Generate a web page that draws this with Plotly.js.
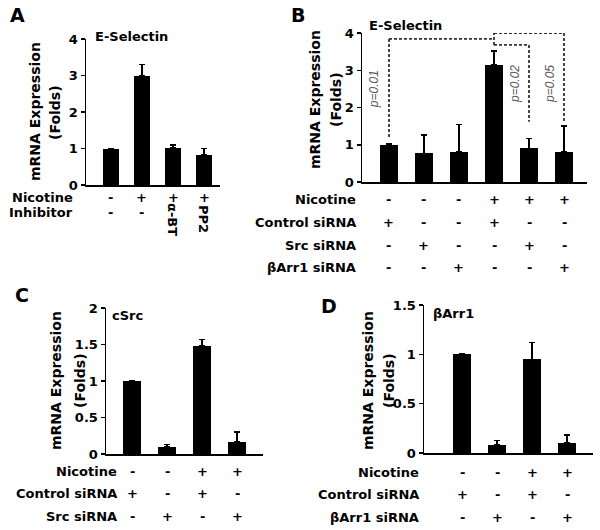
<!DOCTYPE html>
<html><head><meta charset="utf-8">
<script src="https://cdn.plot.ly/plotly-3.0.1.min.js"></script>
<style>html,body{margin:0;padding:0;background:#fff}</style>
</head><body><div id="chart" style="width:600px;height:530px"></div>
<script>
// ---------- Panel A : E-Selectin ----------
const aCats = ['Control', 'Nicotine', 'Nicotine + α-BT', 'Nicotine + PP2'];
const aVals = [1.0, 3.0, 1.02, 0.82];
const aErr = [0.0, 0.30, 0.08, 0.18];
const aNicotine = ['-', '+', '+', '+'];
const aInhibitor = ['-', '-', 'α-BT', 'PP2'];
const aTicks = [0, 1, 2, 3, 4];

// ---------- Panel B : E-Selectin with siRNA ----------
const bCats = ['Ctrl siRNA', 'Src siRNA', 'βArr1 siRNA', 'Nic + Ctrl siRNA', 'Nic + Src siRNA', 'Nic + βArr1 siRNA'];
const bVals = [1.0, 0.77, 0.81, 3.15, 0.90, 0.81];
const bErr = [0.02, 0.49, 0.73, 0.37, 0.27, 0.70];
const bNicotine = ['-', '-', '-', '+', '+', '+'];
const bControl = ['+', '-', '-', '+', '-', '-'];
const bSrc = ['-', '+', '-', '-', '+', '-'];
const bArr = ['-', '-', '+', '-', '-', '+'];
const bTicks = [0, 1, 2, 3, 4];
const bPvals = ['p=0.01', 'p=0.02', 'p=0.05'];

// ---------- Panel C : cSrc ----------
const cCats = ['Ctrl siRNA', 'Src siRNA', 'Nic + Ctrl siRNA', 'Nic + Src siRNA'];
const cVals = [1.0, 0.10, 1.48, 0.17];
const cErr = [0.005, 0.03, 0.09, 0.13];
const cNicotine = ['-', '-', '+', '+'];
const cControl = ['+', '-', '+', '-'];
const cSrc = ['-', '+', '-', '+'];
const cTicks = [0, 0.5, 1, 1.5, 2];
const cTickText = ['0', '0.5', '1', '1.5', '2'];

// ---------- Panel D : βArr1 ----------
const dCats = ['Ctrl siRNA', 'βArr1 siRNA', 'Nic + Ctrl siRNA', 'Nic + βArr1 siRNA'];
const dVals = [1.0, 0.08, 0.95, 0.10];
const dErr = [0.005, 0.045, 0.17, 0.08];
const dNicotine = ['-', '-', '+', '+'];
const dControl = ['+', '-', '+', '-'];
const dArr = ['-', '+', '-', '+'];
const dTicks = [0, 0.5, 1, 1.5];
const dTickText = ['0', '0.5', '1', '1.5'];

const FONT = 'DejaVu Sans';
const W = 600, H = 530;
const px = v => v / W;
const py = v => 1 - v / H;

function barTrace(cats, vals, errs, xa, ya, width) {
  return {
    type: 'bar', x: cats.map((c, i) => i), y: vals, hovertext: cats, textposition: 'none',
    width: width, xaxis: xa, yaxis: ya,
    marker: {color: '#000', line: {width: 0}},
    error_y: {type: 'data', array: errs, arrayminus: errs.map(() => 0), symmetric: false,
      color: '#000', thickness: 1.5, width: 3}
  };
}

const data = [
  barTrace(aCats, aVals, aErr, 'x', 'y', 0.52),
  barTrace(bCats, bVals, bErr, 'x2', 'y2', 0.51),
  barTrace(cCats, cVals, cErr, 'x3', 'y3', 0.51),
  barTrace(dCats, dVals, dErr, 'x4', 'y4', 0.51)
];

function xAxis(domain, range, anchor) {
  return {domain, range, anchor, showline: true, linecolor: '#000', linewidth: 1.5,
    showticklabels: false, ticks: '', showgrid: false, zeroline: false, fixedrange: true};
}
function yAxis(domain, range, anchor, tickvals, ticktext) {
  return {domain, range, anchor, tickvals, ticktext: ticktext || tickvals.map(String),
    showline: true, linecolor: '#000', linewidth: 1.5, ticks: 'outside', ticklen: 4,
    tickwidth: 1.5, tickcolor: '#000', showgrid: false, zeroline: false, fixedrange: true,
    tickfont: {family: FONT, size: 13, color: '#000', weight: 'bold'}};
}

const ann = [];
function txt(x, y, text, opts) {
  ann.push(Object.assign({x, y, xref: 'paper', yref: 'paper', text, showarrow: false,
    xanchor: 'center', yanchor: 'middle',
    font: {family: FONT, size: 13, color: '#000', weight: 'bold'}}, opts || {}));
}
function rowSymbols(xref, syms, yPix) {
  syms.forEach((s, i) => {
    ann.push({x: i, y: py(yPix), xref, yref: 'paper', text: s, showarrow: false,
      xanchor: 'center', yanchor: 'middle',
      font: {family: FONT, size: 13, color: '#000', weight: 'bold'}});
  });
}
function yTitle(x1, x2, yc) {
  txt(px(x1), py(yc), 'mRNA Expression', {textangle: -90, font: {family: FONT, size: 14, color: '#000', weight: 'bold'}});
  txt(px(x2), py(yc), '(Folds)', {textangle: -90, font: {family: FONT, size: 14, color: '#000', weight: 'bold'}});
}

// panel letters
const big = {family: FONT, size: 19, color: '#000', weight: 'bold'};
txt(px(17), py(15), 'A', {font: big});
txt(px(298), py(15), 'B', {font: big});
txt(px(22), py(295), 'C', {font: big});
txt(px(329), py(306), 'D', {font: big});

// Panel A texts
txt(px(93), py(37), 'E-Selectin', {xanchor: 'left'});
yTitle(35, 55, 112);
txt(px(75), py(198), 'Nicotine', {xanchor: 'right'});
txt(px(75), py(212), 'Inhibitor', {xanchor: 'right'});
rowSymbols('x', aNicotine, 198);
aInhibitor.forEach((s, i) => {
  const rot = s.length > 1;
  ann.push({x: i, y: py(rot ? 219 : 212), xref: 'x', yref: 'paper', text: s, showarrow: false,
    textangle: rot ? 90 : 0, xanchor: 'center', yanchor: 'middle',
    font: {family: FONT, size: 13, color: '#000', weight: 'bold'}});
});

// Panel B texts
txt(px(367), py(26), 'E-Selectin', {xanchor: 'left'});
yTitle(315, 336, 100);
const bRowY = [199, 222, 245, 267];
[['Nicotine', bNicotine], ['Control siRNA', bControl], ['Src siRNA', bSrc], ['βArr1 siRNA', bArr]]
  .forEach(([lab, syms], k) => {
    txt(px(358), py(bRowY[k]), lab, {xanchor: 'right'});
    rowSymbols('x2', syms, bRowY[k]);
  });
const pFont = {family: 'Liberation Sans', size: 12, color: '#555', style: 'italic'};
[[-0.42, 2.5], [3.6, 2.63], [4.6, 2.63]].forEach(([x, y], k) => {
  ann.push({x, y, xref: 'x2', yref: 'y2', text: bPvals[k], showarrow: false, textangle: -90,
    xanchor: 'center', yanchor: 'middle', font: pFont});
});

// Panel C texts
txt(px(110), py(315), 'cSrc', {xanchor: 'left'});
yTitle(56, 80, 381);
const cRowY = [471, 493, 516];
[['Nicotine', cNicotine], ['Control siRNA', cControl], ['Src siRNA', cSrc]].forEach(([lab, syms], k) => {
  txt(px(119), py(cRowY[k]), lab, {xanchor: 'right'});
  rowSymbols('x3', syms, cRowY[k]);
});

// Panel D texts
txt(px(431), py(313), 'βArr1', {xanchor: 'left'});
yTitle(368, 389, 381);
const dRowY = [472, 494, 517];
[['Nicotine', dNicotine], ['Control siRNA', dControl], ['βArr1 siRNA', dArr]].forEach(([lab, syms], k) => {
  txt(px(421), py(dRowY[k]), lab, {xanchor: 'right'});
  rowSymbols('x4', syms, dRowY[k]);
});

// significance brackets in panel B (data coordinates)
const dl = {color: '#333', width: 1.8, dash: '3px,2px'};
const seg = (x0, y0, x1, y1) => ({type: 'line', xref: 'x2', yref: 'y2', x0, y0, x1, y1, line: dl});
const shapes = [
  seg(0, 1.21, 0, 3.84), seg(0, 3.84, 3, 3.84),
  seg(3, 3.68, 3, 4.0), seg(3, 4.0, 5, 4.0), seg(3, 3.68, 4, 3.68),
  seg(4, 3.68, 4, 1.62), seg(5, 4.0, 5, 1.62)
];

const layout = {
  width: W, height: H, margin: {l: 0, r: 0, t: 0, b: 0},
  paper_bgcolor: '#fff', plot_bgcolor: 'rgba(0,0,0,0)', showlegend: false, bargap: 0,
  xaxis: xAxis([px(86), px(220)], [-0.806, 3.516], 'y'),
  yaxis: yAxis([py(185), py(39)], [0, 4], 'x', aTicks),
  xaxis2: xAxis([px(362), px(587)], [-0.771, 5.657], 'y2'),
  yaxis2: yAxis([py(182), py(33)], [0, 4], 'x2', bTicks),
  xaxis3: xAxis([px(106), px(263)], [-0.743, 3.743], 'y3'),
  yaxis3: yAxis([py(454), py(308)], [0, 2], 'x3', cTicks, cTickText),
  xaxis4: xAxis([px(424), px(593)], [-1.086, 3.743], 'y4'),
  yaxis4: yAxis([py(453), py(305)], [0, 1.5], 'x4', dTicks, dTickText),
  annotations: ann, shapes: shapes
};

Plotly.newPlot('chart', data, layout, {displayModeBar: false, staticPlot: true});
</script></body></html>
